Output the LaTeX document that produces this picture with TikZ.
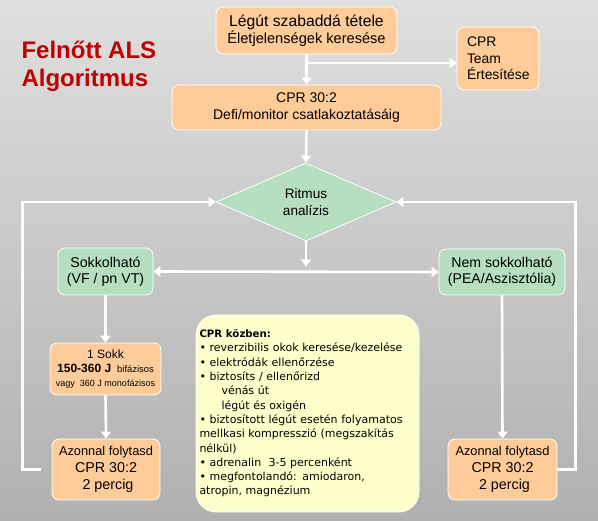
\documentclass[tikz,border=0pt]{standalone}
\usepackage{fontspec}
\setmainfont{Liberation Sans}
\newfontfamily\notefont{DejaVu Sans}
\usetikzlibrary{arrows.meta,shapes.geometric}
\definecolor{orfill}{RGB}{255,204,153}
\definecolor{grfill}{RGB}{181,223,192}
\definecolor{notefill}{RGB}{255,255,204}
\definecolor{titlered}{RGB}{192,0,0}
\definecolor{bgtop}{RGB}{223,223,223}
\definecolor{bgbot}{RGB}{176,176,176}
\newcommand{\fs}[2]{\fontsize{#1}{#2}\selectfont}

\begin{document}
\begin{tikzpicture}[x=1pt, y=-1pt, every node/.style={font=\fs{14}{17}, text=black},
	box/.style={draw=white, line width=0.8pt, rounded corners=7pt, align=center, inner sep=0pt},
	orbox/.style={box, fill=orfill},
	grbox/.style={box, fill=grfill},
	flow/.style={draw=white, line width=2.6pt, -{Triangle[length=7pt,width=10pt]}}]
	\shade[top color=bgtop, bottom color=bgbot] (0,0) rectangle (598,521);
	\useasboundingbox (0,0) rectangle (598,521);
	\node[anchor=north west, align=left, text=titlered, font=\fs{24}{28}\bfseries] (title) at (18,38) {Felnőtt ALS\\Algoritmus};
	\node[orbox, minimum width=181pt, minimum height=47pt] (airway) at (306.5,30.5) {\fs{15.7}{17}Légút szabaddá tétele\\\fs{14.6}{17}Életjelenségek keresése};
	\node[orbox, minimum width=82pt, minimum height=63pt, text width=62pt, align=left, font=\fs{13.9}{16.5}] (team) at (498,58.5) {CPR\\Team\\Értesítése};
	\node[orbox, minimum width=269pt, minimum height=45pt] (cpr) at (306.5,107.5) {CPR 30:2\\Defi/monitor csatlakoztatásáig};
	\node[diamond, draw=white, line width=0.8pt, fill=grfill, aspect=2.3, inner sep=0pt, minimum width=180pt, minimum height=78pt, align=center, font=\fs{13.6}{17}] (rhythm) at (306,202) {Ritmus\\analízis};
	\node[grbox, minimum width=95pt, minimum height=47pt, font=\fs{14.2}{16}] (shock) at (105.5,271.5) {Sokkolható\\(VF / pn VT)};
	\node[grbox, minimum width=126pt, minimum height=46pt, font=\fs{14.1}{16}] (noshock) at (502,272) {Nem sokkolható\\(PEA/Aszisztólia)};
	\node[orbox, minimum width=111pt, minimum height=52pt, font=\fs{12}{14}] (sokk) at (105.5,369) {1 Sokk\\\textbf{150-360 J} {\fs{9.4}{11}\ bifázisos}\\\fs{9}{12}vagy \ 360 J monofázisos};
	\node[orbox, minimum width=108pt, minimum height=61pt] (contL) at (106,469.5) {\fs{12.8}{16}Azonnal folytasd\\\fs{14.3}{16}CPR 30:2\hspace*{5pt}\\\fs{14.3}{16}\hspace*{4pt}2 percig};
	\node[orbox, minimum width=109pt, minimum height=61pt] (contR) at (502.5,469.5) {\fs{12.8}{16}Azonnal folytasd\\\fs{14.3}{16}CPR 30:2\hspace*{5pt}\\\fs{14.3}{16}\hspace*{4pt}2 percig};
	\node[box, fill=notefill, rounded corners=20pt, minimum width=223pt, minimum height=197pt, text width=216pt, align=left, font=\notefont\fs{11}{14.3}] (notes) at (307.5,413.5) {{\fs{10.2}{14.3}\bfseries CPR közben:}\\
		• reverzibilis okok keresése/kezelése\\
		• elektródák ellenőrzése\\
		• biztosíts / ellenőrizd\\
		\hspace*{2em}vénás út\\
		\hspace*{2em}légút és oxigén\\
		• biztosított légút esetén folyamatos\\
		mellkasi kompresszió (megszakítás\\
		nélkül)\\
		• adrenalin \ 3-5 percenként\\
		• megfontolandó: amiodaron,\\
		atropin, magnézium};
	\coordinate (split) at (306,63);
	\draw[flow] (airway.south) -- (cpr.north);
	\draw[flow] (split) -- (split -| team.west);
	\draw[flow] (cpr.south) -- (rhythm.north);
	\draw[flow, shorten >=5pt] (rhythm.south) -- (rhythm.south |- shock.east);
	\draw[flow, {Triangle[length=7pt,width=10pt]}-{Triangle[length=7pt,width=10pt]}] (shock.east) -- (noshock.west);
	\draw[flow] (shock.south) -- (sokk.north);
	\draw[flow] (sokk.south) -- (contL.north);
	\draw[flow] (noshock.south) -- (contR.north);
	\draw[flow, shorten <=11pt] (contL.west) -- ++(-29,0) |- (rhythm.west);
	\draw[flow] (contR.east) -- ++(18,0) |- (rhythm.east);
\end{tikzpicture}
\end{document}
